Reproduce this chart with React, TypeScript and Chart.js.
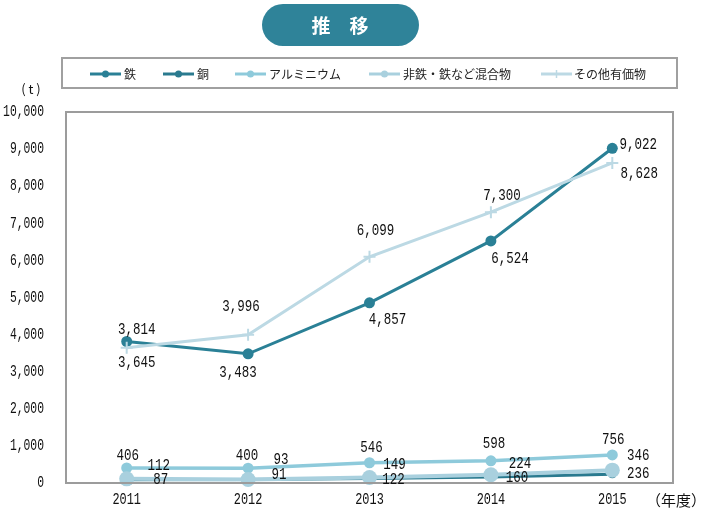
import React, { useEffect, useRef } from "react";
import { Chart, registerables } from "chart.js";

Chart.register(...registerables);

// ---- data ----
const years = ["2011", "2012", "2013", "2014", "2015"];
const seriesNames = ["鉄", "銅", "アルミニウム", "非鉄・鉄など混合物", "その他有価物"];
const iron = [3814, 3483, 4857, 6524, 9022];
const copper = [87, 91, 122, 160, 236];
const aluminum = [406, 400, 546, 598, 756];
const mixed = [112, 93, 149, 224, 346];
const others = [3645, 3996, 6099, 7300, 8628];
const yMin = 0;
const yMax = 10000;
const yStep = 1000;
const titleText = "推　移";
const yUnit = "( t )";
const xUnit = "（年度）";

// ---- styles ----
const seriesStyles = [
  { color: "#2a8096", width: 3, radius: 5.5, point: "circle", order: 3 },
  { color: "#2a7a8f", width: 3, radius: 4, point: "circle", order: 4 },
  { color: "#8ecadb", width: 3.5, radius: 5.5, point: "circle", order: 2 },
  { color: "#a9d0de", width: 4, radius: 7.5, point: "circle", order: 1 },
  { color: "#bcd9e4", width: 3, radius: 6, point: "cross", order: 0 },
];
// label offsets (dx, dy) from each point, per series
const labelOffsets = [
  [[10, -12], [-10, 19], [18, 17], [19, 18], [26, -4]],
  [[34, 0], [31, -5], [24, 1], [26, 0], [26, -1]],
  [[1, -12], [-1, -13], [2, -15], [3, -17], [1, -15]],
  [[32, -13], [33, -20], [25, -13], [29, -11], [26, -15]],
  [[10, 15], [-7, -28], [6, -26], [11, -17], [27, 11]],
];
const legendSlots = [
  [90, 124],
  [163, 197],
  [235, 269],
  [369, 403],
  [541, 574],
];

const CJK = "'Noto Sans CJK JP', 'Noto Sans', sans-serif";
const MONO = "'Liberation Mono', 'DejaVu Sans Mono', monospace";

function drawCondensed(
  ctx: CanvasRenderingContext2D,
  text: string,
  x: number,
  y: number,
  size = 17,
  sx = 0.735,
  align: CanvasTextAlign = "center"
) {
  ctx.save();
  ctx.translate(x, y);
  ctx.scale(sx, 1);
  ctx.font = size + "px " + MONO;
  ctx.fillStyle = "#111";
  ctx.textAlign = align;
  ctx.textBaseline = "middle";
  ctx.fillText(text, 0, 0);
  ctx.restore();
}

const decorPlugin = {
  id: "decor",
  afterDatasetsDraw(chart: any) {
    const ctx: CanvasRenderingContext2D = chart.ctx;
    const a = chart.chartArea;
    ctx.save();
    ctx.strokeStyle = "#9c9c9c";
    ctx.lineWidth = 2;
    ctx.strokeRect(a.left, a.top, a.right - a.left, a.bottom - a.top);
    ctx.restore();
    // data labels
    chart.data.datasets.forEach((ds: any, di: number) => {
      const meta = chart.getDatasetMeta(di);
      meta.data.forEach((pt: any, i: number) => {
        const v = ds.data[i];
        const off = labelOffsets[di][i];
        drawCondensed(ctx, v.toLocaleString("en-US"), pt.x + off[0], pt.y + off[1]);
      });
    });
    // axis tick labels, positioned by the chart's scales
    const ys = chart.scales.y;
    ys.ticks.forEach((t: any, i: number) => {
      drawCondensed(ctx, Number(t.value).toLocaleString("en-US"), 44, ys.getPixelForTick(i), 16, 0.71, "right");
    });
    const xs = chart.scales.x;
    xs.ticks.forEach((t: any, i: number) => {
      drawCondensed(ctx, String(chart.data.labels[i]), xs.getPixelForTick(i), 500, 16.5, 0.72, "center");
    });
  },
  afterDraw(chart: any) {
    const ctx: CanvasRenderingContext2D = chart.ctx;
    ctx.save();
    // title pill
    ctx.fillStyle = "#2f8399";
    ctx.beginPath();
    (ctx as any).roundRect(262, 4, 157, 42, 21);
    ctx.fill();
    ctx.fillStyle = "#ffffff";
    ctx.font = "bold 19px " + CJK;
    ctx.textAlign = "center";
    ctx.textBaseline = "middle";
    ctx.fillText(titleText, 340, 26);

    // legend box
    ctx.strokeStyle = "#a0a0a0";
    ctx.lineWidth = 2;
    ctx.strokeRect(62, 58, 615, 30);
    const ly = 74;
    seriesNames.forEach((name, i) => {
      const st = seriesStyles[i];
      const [lx, tx] = legendSlots[i];
      ctx.strokeStyle = st.color;
      ctx.lineWidth = 3;
      ctx.beginPath();
      ctx.moveTo(lx, ly);
      ctx.lineTo(lx + 31, ly);
      ctx.stroke();
      const cx = lx + 15.5;
      if (st.point === "cross") {
        ctx.lineWidth = 1.5;
        ctx.beginPath();
        ctx.moveTo(cx, ly - 4);
        ctx.lineTo(cx, ly + 4);
        ctx.stroke();
      } else {
        ctx.fillStyle = st.color;
        ctx.beginPath();
        ctx.arc(cx, ly, 3.5, 0, Math.PI * 2);
        ctx.fill();
      }
      ctx.fillStyle = "#222";
      ctx.font = "12px " + CJK;
      ctx.textAlign = "left";
      ctx.textBaseline = "middle";
      ctx.fillText(name, tx, ly);
    });

    // axis unit labels
    ctx.fillStyle = "#111";
    ctx.font = "13px " + CJK;
    ctx.textAlign = "center";
    ctx.textBaseline = "middle";
    ctx.fillText(yUnit, 31, 89);
    ctx.font = "15px " + CJK;
    ctx.fillText(xUnit, 676, 500);
    ctx.restore();
  },
};

export default function App() {
  const ref = useRef<HTMLCanvasElement | null>(null);
  useEffect(() => {
    if (!ref.current) return;
    const all = [iron, copper, aluminum, mixed, others];
    const chart = new Chart(ref.current, {
      type: "line",
      data: {
        labels: years,
        datasets: all.map((d, i) => {
          const st = seriesStyles[i];
          return {
            label: seriesNames[i],
            data: d,
            borderColor: st.color,
            backgroundColor: st.color,
            borderWidth: st.width,
            pointStyle: st.point as any,
            pointRadius: st.radius,
            pointBackgroundColor: st.color,
            pointBorderColor: st.color,
            pointBorderWidth: st.point === "cross" ? 2 : 0,
            tension: 0,
            order: st.order,
            clip: 10,
          };
        }),
      },
      options: {
        animation: false,
        responsive: false,
        devicePixelRatio: 1,
        layout: { padding: { left: 0, top: 112, right: 33, bottom: 0 } },
        plugins: { legend: { display: false }, tooltip: { enabled: false }, title: { display: false } },
        scales: {
          x: {
            type: "category",
            offset: true,
            grid: { display: false, drawTicks: false },
            border: { display: false },
            ticks: { display: false },
            afterFit: (s: any) => {
              s.height = 27;
            },
          },
          y: {
            min: yMin,
            max: yMax,
            grid: { display: false, drawTicks: false },
            border: { display: false },
            ticks: { display: false, stepSize: yStep },
            afterFit: (s: any) => {
              s.width = 66;
            },
          },
        },
      },
      plugins: [decorPlugin],
    });
    return () => chart.destroy();
  }, []);
  return (
    <div style={{ position: "absolute", left: 0, top: 0, width: 706, height: 510, background: "#fff" }}>
      <canvas ref={ref} width={706} height={510} style={{ width: 706, height: 510, display: "block" }} />
    </div>
  );
}
